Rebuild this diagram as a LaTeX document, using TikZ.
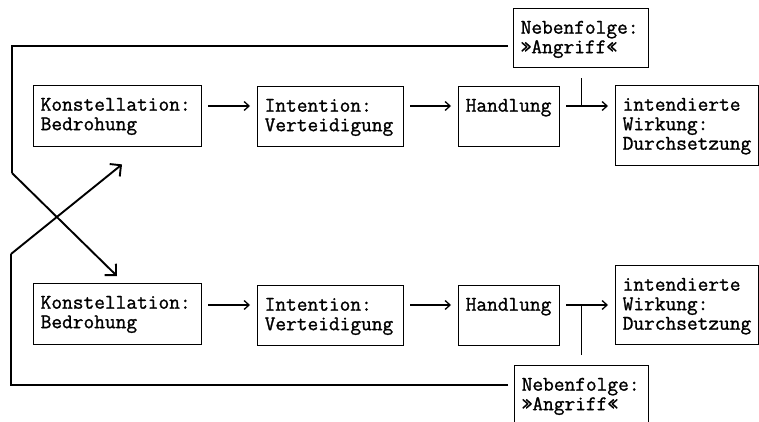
\documentclass[tikz,border=0pt]{standalone}
\usepackage{fontspec}
\newfontfamily\typewriter[FakeBold=1.2]{Latin Modern Mono}
\usetikzlibrary{arrows.meta}

% fixed-size box body: text starts top left, first baseline 25pt below the top
\newcommand{\boxbody}[3]{\parbox[t][#2][t]{#1}{\raggedright\leftskip=7pt\rule{0pt}{25pt}#3}}

\begin{document}
\begin{tikzpicture}[x=1pt,y=-1pt,
  box/.style={draw, line width=1.4pt, anchor=north west, inner sep=0pt,
              font=\typewriter\fontsize{20.8}{19.5}\selectfont},
  flow/.style={line width=1.3pt, -{Straight Barb[length=5pt,width=9pt,line width=1.3pt]},
               shorten <=6pt, shorten >=7pt},
  rule/.style={line width=1.3pt},
  cross/.style={line width=1.9pt, -{Straight Barb[length=8pt,width=16pt,line width=1.9pt]}}]
\useasboundingbox (0,0) rectangle (759,422);

% upper chain
\node[box] (k1) at (33,85)  {\boxbody{168pt}{61pt}{Konstellation:\\Bedrohung}};
\node[box] (i1) at (257,86) {\boxbody{146pt}{60pt}{Intention:\\Verteidigung}};
\node[box] (h1) at (458,86) {\boxbody{101pt}{60pt}{Handlung}};
\node[box] (w1) at (615,85) {\boxbody{143pt}{80pt}{intendierte\\Wirkung:\\Durchsetzung}};
\node[box] (n1) at (513,8)  {\boxbody{135pt}{59pt}{Nebenfolge:\\»Angriff«}};

% lower chain
\node[box] (k2) at (33,283)  {\boxbody{168pt}{61pt}{Konstellation:\\Bedrohung}};
\node[box] (i2) at (257,285) {\boxbody{146pt}{60pt}{Intention:\\Verteidigung}};
\node[box] (h2) at (458,285) {\boxbody{101pt}{60pt}{Handlung}};
\node[box] (w2) at (615,265) {\boxbody{143pt}{79pt}{intendierte\\Wirkung:\\Durchsetzung}};
\node[box] (n2) at (514,365) {\boxbody{134pt}{58pt}{Nebenfolge:\\»Angriff«}};

% levels of the horizontal arrows and of the return lines
\coordinate (r1) at (0,106);
\coordinate (r2) at (0,305);
\coordinate (f1) at (0,46);
\coordinate (f2) at (0,385);

% chain arrows
\draw[flow] (k1.east |- r1) -- (i1.west |- r1);
\draw[flow] (i1.east |- r1) -- (h1.west |- r1);
\draw[flow] (h1.east |- r1) -- (w1.west |- r1);
\draw[flow] (k2.east |- r2) -- (i2.west |- r2);
\draw[flow] (i2.east |- r2) -- (h2.west |- r2);
\draw[flow] (h2.east |- r2) -- (w2.west |- r2);

% side effects branching off the action arrows
\draw[rule] ([yshift=-10pt]n1.south) -- (n1.south |- r1);
\draw[rule] ([yshift=10pt]n2.north) -- (n2.north |- r2);

% return paths, crossing over to the other chain
\coordinate (lt) at (12,46);
\coordinate (lb) at (12,173);
\coordinate (mt) at (11,385);
\coordinate (mb) at (11,254);
\draw[rule, shorten <=5pt] (n1.west |- f1) -- (lt) -- (lb);
\draw[cross] (lb) -- ([shift={(84pt,7pt)}]k2.north west);
\draw[rule, shorten <=6pt] (n2.west |- f2) -- (mt) -- (mb);
\draw[cross] (mb) -- ([shift={(89pt,-17pt)}]k1.south west);
\end{tikzpicture}
\end{document}
